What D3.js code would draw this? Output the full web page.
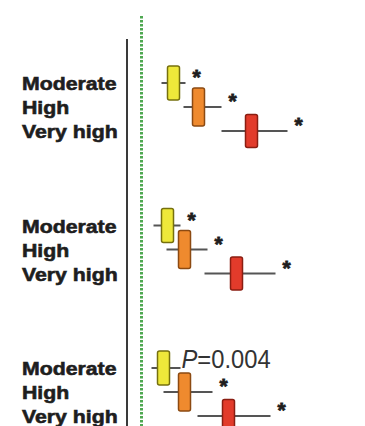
<!DOCTYPE html>
<html>
<head>
<meta charset="utf-8">
<script src="https://cdn.jsdelivr.net/npm/d3@7"></script>
<style>
  html, body { margin: 0; padding: 0; background: #fff; }
  svg { display: block; }
</style>
</head>
<body>
<svg width="365" height="426"></svg>
<script>
// rows inside each block
const levels = ["Moderate", "High", "Very high"];
const blocks = [0, 1, 2];

// point estimate and CI ends, one row per block
const estimates = [[1.32, 1.57, 2.10], [1.26, 1.43, 1.95], [1.22, 1.43, 1.87]];
const lower     = [[1.20, 1.42, 1.80], [1.12, 1.25, 1.63], [1.10, 1.22, 1.56]];
const upper     = [[1.44, 1.80, 2.46], [1.39, 1.66, 2.34], [1.39, 1.71, 2.29]];
const notes     = [["*", "*", "*"], ["*", "*", "*"], ["P=0.004", "*", "*"]];

const svg = d3.select("svg"),
    width = +svg.attr("width"),
    height = +svg.attr("height");

const x = d3.scaleLinear().domain([1, 2]).range([141.5, 241.5]);
const blockY = d3.scalePoint().domain(blocks).range([83, 368]);
const rowY = d3.scalePoint().domain(levels).range([0, 48]);

const fill = d3.scaleOrdinal().domain(levels).range(["#eee83a", "#ef8a2e", "#e23b2b"]);
const edge = d3.scaleOrdinal().domain(levels).range(["#76700e", "#8c4a12", "#8a1e12"]);
const boxH = d3.scaleOrdinal().domain(levels).range([34, 38, 33]);

const rows = [];
blocks.forEach(b => levels.forEach((lv, i) => rows.push({
    block: b, level: lv,
    est: estimates[b][i], lo: lower[b][i], hi: upper[b][i], note: notes[b][i],
    y: blockY(b) + rowY(lv)
})));

// left axis line
svg.append("line")
    .attr("x1", 127).attr("x2", 127)
    .attr("y1", 39).attr("y2", height)
    .attr("stroke", "#3a3a3a")
    .attr("stroke-width", 2);

// reference line at 1
svg.append("line")
    .attr("x1", x(1)).attr("x2", x(1))
    .attr("y1", 16).attr("y2", height)
    .attr("stroke", "#4ea851")
    .attr("stroke-width", 3)
    .attr("stroke-dasharray", "2.4,1.6");

// labels
svg.append("g")
    .selectAll("text")
    .data(rows)
    .join("text")
    .attr("transform", d => `translate(22,${d.y + 7}) scale(1.12,1)`)
    .attr("font-family", "Arial, 'Liberation Sans', sans-serif")
    .attr("font-weight", "bold")
    .attr("font-size", 19)
    .attr("fill", "#1e1e1e")
    .attr("stroke", "#1e1e1e")
    .attr("stroke-width", 0.6)
    .text(d => d.level);

const row = svg.append("g")
    .selectAll("g")
    .data(rows)
    .join("g");

row.append("line")
    .attr("x1", d => x(d.lo))
    .attr("x2", d => x(d.hi))
    .attr("y1", d => d.y).attr("y2", d => d.y)
    .attr("stroke", "#555")
    .attr("stroke-width", 2);

row.append("rect")
    .attr("x", d => x(d.est) - 6)
    .attr("y", d => d.y - boxH(d.level) / 2)
    .attr("width", 12)
    .attr("height", d => boxH(d.level))
    .attr("rx", 2)
    .attr("fill", d => fill(d.level))
    .attr("stroke", d => edge(d.level))
    .attr("stroke-width", 1.5);

// significance marks
row.filter(d => d.note === "*")
    .append("text")
    .attr("x", d => x(d.hi) + 11)
    .attr("y", d => d.y + 1)
    .attr("text-anchor", "middle")
    .attr("font-family", "Arial, 'Liberation Sans', sans-serif")
    .attr("font-weight", "bold")
    .attr("font-size", 21)
    .attr("fill", "#1e1e1e")
    .attr("stroke", "#1e1e1e")
    .attr("stroke-width", 0.8)
    .text("*");

const pText = row.filter(d => d.note !== "*")
    .append("text")
    .attr("transform", d => `translate(${x(d.hi) + 1},${d.y}) scale(0.95,1)`)
    .attr("font-family", "Arial, 'Liberation Sans', sans-serif")
    .attr("font-size", 25)
    .attr("fill", "#333");
pText.append("tspan").attr("font-style", "italic").text(d => d.note.split("=")[0]);
pText.append("tspan").text(d => "=" + d.note.split("=")[1]);
</script>
</body>
</html>
